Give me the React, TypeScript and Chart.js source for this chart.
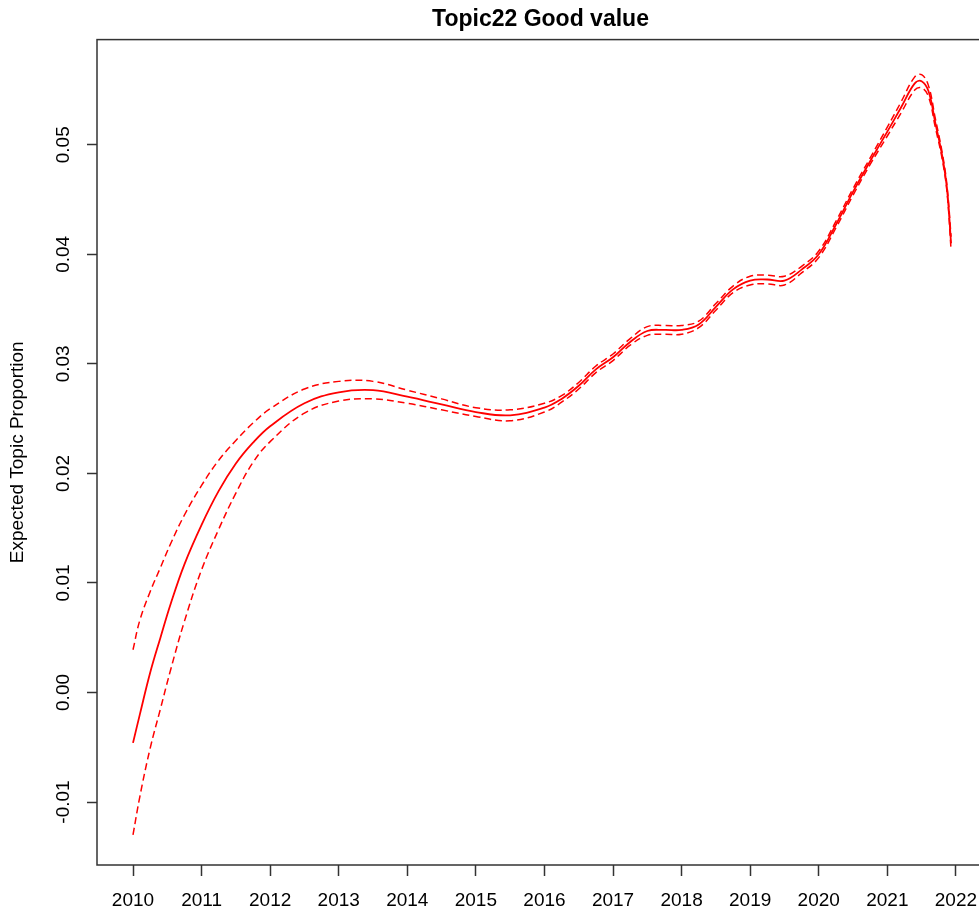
import React, { useEffect, useRef } from "react";
import { Chart, registerables } from "chart.js";

Chart.register(...registerables);

const titleText = "Topic22 Good value";
const yAxisTitle = "Expected Topic Proportion";

const years = [
  2010.0, 2010.1, 2010.25, 2010.4, 2010.55, 2010.75, 2011.0, 2011.25, 2011.5, 2011.75,
  2012.0, 2012.5, 2013.0, 2013.5, 2014.0, 2014.5, 2015.0, 2015.5, 2016.0, 2016.25,
  2016.5, 2016.75, 2017.0, 2017.25, 2017.5, 2017.75, 2018.0, 2018.25, 2018.5, 2018.75,
  2019.0, 2019.25, 2019.5, 2019.75, 2020.0, 2020.25, 2020.5, 2020.75, 2021.0, 2021.2,
  2021.4, 2021.5, 2021.6, 2021.7, 2021.8, 2021.87, 2021.93,
];

const meanVals = [
  -0.0046, -0.002, 0.0018, 0.005, 0.0081, 0.0117, 0.0153, 0.0184, 0.0209, 0.0228,
  0.0243, 0.0264, 0.0274, 0.0276, 0.027, 0.0263, 0.0256, 0.0253, 0.026, 0.0268,
  0.028, 0.0295, 0.0306, 0.032, 0.033, 0.0331, 0.0331, 0.0336, 0.0352, 0.0368,
  0.0376, 0.0377, 0.0376, 0.0386, 0.04, 0.0427, 0.0457, 0.0485, 0.0512, 0.0534,
  0.0556, 0.0558, 0.0549, 0.052, 0.049, 0.046, 0.041,
];

const upperVals = [
  0.0039, 0.0066, 0.0092, 0.0114, 0.0136, 0.0162, 0.0189, 0.0212, 0.023, 0.0246,
  0.0259, 0.0277, 0.0284, 0.0284, 0.0276, 0.0268, 0.026, 0.0258, 0.0264, 0.0271,
  0.0283, 0.0298, 0.0309, 0.0323, 0.0334, 0.0335, 0.0335, 0.0339, 0.0355, 0.0371,
  0.038, 0.0381, 0.038, 0.0389, 0.0403, 0.043, 0.046, 0.0488, 0.0516, 0.0539,
  0.0562, 0.0564, 0.0554, 0.0524, 0.0493, 0.0463, 0.0416,
];

const lowerVals = [
  -0.013, -0.0095, -0.0051, -0.0015, 0.0021, 0.0065, 0.0112, 0.0149, 0.0182, 0.021,
  0.0229, 0.0255, 0.0266, 0.0268, 0.0264, 0.0258, 0.0252, 0.0248, 0.0256, 0.0265,
  0.0277, 0.0292, 0.0303, 0.0317, 0.0326, 0.0327, 0.0327, 0.0333, 0.0349, 0.0365,
  0.0372, 0.0373, 0.0372, 0.0383, 0.0397, 0.0424, 0.0454, 0.0482, 0.0508, 0.0529,
  0.055, 0.0552, 0.0544, 0.0516, 0.0487, 0.0457, 0.0404,
];

const xTickYears = [2010, 2011, 2012, 2013, 2014, 2015, 2016, 2017, 2018, 2019, 2020, 2021, 2022];
const yTickValues = [-0.01, 0, 0.01, 0.02, 0.03, 0.04, 0.05];

const xMin = 2009.475;
const xMax = 2022.41;
const yMin = -0.01575;
const yMax = 0.0596;

const FONT = "'Liberation Sans', Arial, Helvetica, sans-serif";

const boxPlugin = {
  id: "plotBox",
  afterDraw(chart: any) {
    const { ctx, chartArea } = chart;
    const { left, top, right, bottom } = chartArea;
    ctx.save();
    ctx.strokeStyle = "#333";
    ctx.lineWidth = 1.5;
    ctx.strokeRect(left, top, right - left, bottom - top);
    ctx.restore();
  },
};

export default function App() {
  const ref = useRef<HTMLCanvasElement | null>(null);

  useEffect(() => {
    if (!ref.current) return;
    const toPts = (arr: number[]) => years.map((x, i) => ({ x, y: arr[i] }));
    const red = "#ff0000";
    const chart = new Chart(ref.current, {
      type: "line",
      data: {
        datasets: [
          {
            data: toPts(upperVals),
            borderColor: red,
            borderWidth: 1.5,
            borderDash: [7, 4],
            pointRadius: 0,
            tension: 0.4,
            fill: false,
          },
          {
            data: toPts(lowerVals),
            borderColor: red,
            borderWidth: 1.5,
            borderDash: [7, 4],
            pointRadius: 0,
            tension: 0.4,
            fill: false,
          },
          {
            data: toPts(meanVals),
            borderColor: red,
            borderWidth: 1.8,
            pointRadius: 0,
            tension: 0.4,
            fill: false,
          },
        ],
      },
      options: {
        animation: false,
        responsive: false,
        events: [],
        layout: { padding: { left: 0, right: 16, top: 0, bottom: 0 } },
        plugins: {
          legend: { display: false },
          tooltip: { enabled: false },
          title: {
            display: true,
            text: titleText,
            fullSize: false,
            color: "#000",
            font: { family: FONT, size: 23, weight: "bold" },
            padding: { top: 6, bottom: 6 },
          },
        },
        scales: {
          x: {
            type: "linear",
            min: xMin,
            max: xMax,
            afterBuildTicks: (s: any) => {
              s.ticks = xTickYears.map((v) => ({ value: v }));
            },
            afterFit: (s: any) => {
              s.height = 46;
            },
            ticks: {
              autoSkip: false,
              minRotation: 0,
              maxRotation: 0,
              padding: 13,
              color: "#000",
              font: { family: FONT, size: 19 },
              callback: (v: any) => String(v),
            },
            grid: {
              display: true,
              drawOnChartArea: false,
              drawTicks: true,
              tickLength: 11,
              tickColor: "#333",
              tickWidth: 1.5,
            },
            border: { display: false },
          },
          y: {
            type: "linear",
            min: yMin,
            max: yMax,
            afterBuildTicks: (s: any) => {
              s.ticks = yTickValues.map((v) => ({ value: v }));
            },
            afterFit: (s: any) => {
              s.width = 97;
            },
            ticks: {
              autoSkip: false,
              minRotation: 90,
              maxRotation: 90,
              crossAlign: "center",
              padding: 2,
              color: "#000",
              font: { family: FONT, size: 19 },
              callback: (v: any) => Number(v).toFixed(2),
            },
            grid: {
              display: true,
              drawOnChartArea: false,
              drawTicks: true,
              tickLength: 10,
              tickColor: "#333",
              tickWidth: 1.5,
            },
            border: { display: false },
            title: {
              display: true,
              text: yAxisTitle,
              color: "#000",
              font: { family: FONT, size: 19 },
              padding: { top: 6, bottom: 0 },
            },
          },
        },
      } as any,
      plugins: [boxPlugin],
    });
    return () => chart.destroy();
  }, []);

  return (
    <div
      style={{
        position: "absolute",
        left: 0,
        top: 0,
        width: 979,
        height: 911,
        overflow: "hidden",
        background: "#fff",
      }}
    >
      <canvas ref={ref} width={1000} height={911} style={{ display: "block", width: 1000, height: 911 }} />
    </div>
  );
}
